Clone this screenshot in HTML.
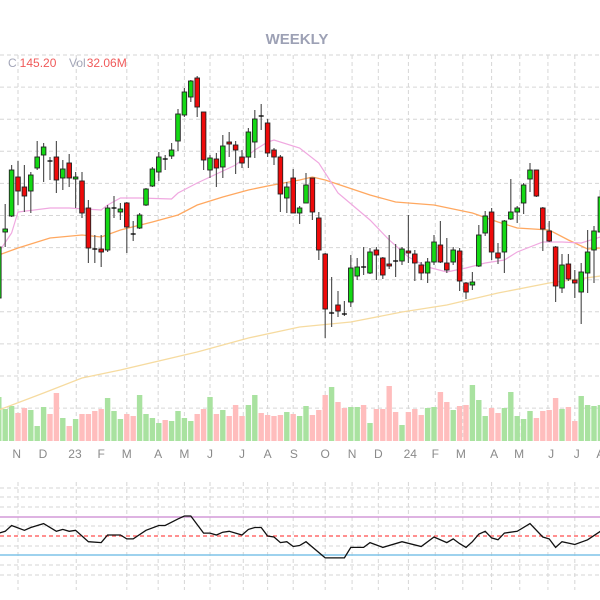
<!DOCTYPE html>
<html><head><meta charset="utf-8">
<style>
html,body{margin:0;padding:0;background:#fff;}
svg{display:block;font-family:"Liberation Sans",sans-serif;}
</style></head>
<body>
<svg id="chart" width="600" height="600" viewBox="0 0 600 600">
<g id="grid"></g>
<g id="vol"></g>
<g id="ma"></g>
<g id="candles"></g>
<g id="rsi"></g>
<g id="xaxis"></g>
<text x="297" y="44" text-anchor="middle" font-size="15" font-weight="bold" fill="#9da1b5">WEEKLY</text>
<text x="8" y="67" font-size="12"><tspan fill="#a3a6b8">C</tspan><tspan fill="#f05a5a" dx="3">145.20</tspan></text>
<text x="69" y="67" font-size="12"><tspan fill="#a3a6b8">Vol</tspan><tspan fill="#f05a5a" dx="1">32.06M</tspan></text>
</svg>
<script>
const opens=[102,168,184,223,213,209,232,245,239,243,222,237,221,219,192,151,151,150,192,188,197,166,172,195,214,228,241,244,259,285,303,322,288,230,241,233,258,255,243,243,258,284,277,250,243,202,222,187,197,222,182,146,87,95,86,98,124,133,127,150,142,136,139,139,149,146,135,127,138,155,137,138,149,117,115,134,167,188,147,148,181,188,197,221,230,192,169,153,112,136,120,108,127,150,168];
const closes=[153,171,230,209,204,225,243,253,238,220,231,222,223,187,152,150,148,192,193,191,173,165,185,211,231,243,240,250,286,308,319,293,240,242,232,254,256,250,237,268,281,283,247,243,206,213,187,192,215,188,150,91,88,89,85,132,133,132,148,145,125,134,138,151,147,137,127,138,158,138,130,150,119,108,118,165,184,148,142,179,188,192,215,230,204,171,159,114,135,121,117,128,148,169,203];
const highs=[155,196,235,239,235,228,259,257,243,259,240,246,228,228,200,165,165,195,204,197,198,179,187,212,233,248,245,257,291,312,320,324,288,245,247,265,268,259,250,272,290,296,281,252,245,218,231,194,227,222,188,147,123,109,99,145,142,153,152,153,143,165,156,153,185,150,138,142,165,179,162,153,152,118,128,175,189,192,157,180,221,194,217,237,230,193,179,154,146,146,130,137,170,174,210];
const lows=[102,153,183,195,188,187,230,218,220,207,210,213,192,182,137,137,133,148,182,180,147,159,171,194,213,219,230,241,249,283,298,283,230,222,213,222,243,226,232,232,242,270,243,235,188,187,187,176,197,180,140,62,73,83,84,93,120,125,126,120,121,131,123,135,137,119,120,117,135,137,127,135,109,101,110,133,164,140,136,127,180,177,186,208,203,149,158,98,107,119,102,76,107,117,168];
const volumes=[44,32,35,28,33,31,15,34,27,48,23,15,22,27,27,30,32,43,30,22,27,25,46,27,23,18,21,20,30,23,20,27,32,44,27,31,25,36,25,36,46,28,26,25,26,29,27,25,35,26,31,46,54,39,33,34,34,36,18,32,32,55,29,16,29,32,26,33,34,49,39,31,35,36,56,41,25,33,28,33,49,25,22,30,23,30,31,43,32,34,20,45,36,35,36];
const maPinkIdx=[0,2,3,8,11,16,17,19,22,27,28,31,33,37,40,42,43,47,50,53,58,61,64,67,70,73,76,79,81,85,88,91,94];
const maPinkVal=[148,167,188,192,192,190,195,202,202,201,207,217,223,235,250,258,260,252,237,207,180,160,143,133,128,132,137,140,148,158,158,157,163];
const maOrangeIdx=[0,3,8,13,16,19,24,28,31,35,39,42,47,49,51,58,62,68,74,78,81,86,89,92,94];
const maOrangeVal=[145,152,162,165,163,170,178,185,195,203,210,214,220,223,220,205,198,195,187,178,172,170,160,151,152];
const maLongIdx=[0,7,13,19,31,39,47,55,63,70,78,86,94];
const maLongVal=[-10,7,22,30,48,62,73,78,88,95,107,117,124];
const rsiIdx=[0,1,2,4,5,7,9,10,11,12,14,16,17,19,20,21,23,25,26,28,29,30,32,33,34,35,36,38,39,40,41,42,43,44,45,46,47,48,51,54,55,57,58,60,63,66,68,70,71,72,73,74,75,76,77,78,79,81,83,85,86,87,88,90,92,94];
const rsiVal=[53,55,61,56,59,63,55,57,55,56,44,43,51,51,47,47,56,61,61,68,71,71,53,53,51,54,55,51,57,59,59,50,49,43,44,39,40,44,27,27,38,38,43,38,44,39,49,43,47,42,38,44,52,55,48,46,53,55,63,49,47,38,44,41,46,55];
const rsiLevels=[70,50,30];
const tickLabels=["N","D","23","F","M","A","M","J","J","A","S","O","N","D","24","F","M","A","M","J","J","A"];
const tickIdx=[2.8,6.9,11.9,16,20,24.9,29,33,38,42,46.1,51,55.2,59.3,64.3,68.2,72.2,77.4,81.3,86.3,90.3,94];
const gridIdx=[3,12.1,20,24.9,29,33,38.2,42,46,51,55.2,59.3,64,68.2,72.5,77,81.4,85.8,90];

const NS="http://www.w3.org/2000/svg";
const xS=i=>-1.2+6.4*i;
const yP=p=>400-p;
const yV=v=>441-v;
const yR=r=>536-(r-50)*0.95;
function mk(tag,attrs,parent){const e=document.createElementNS(NS,tag);for(const k in attrs)e.setAttribute(k,attrs[k]);parent.appendChild(e);return e;}

// grid
const grid=document.getElementById('grid');
for(let k=0;k<12;k++){const y=55+k*32.1;
 const l=mk('line',{x1:0,x2:600,y1:y,y2:y,stroke:'#d6d6d6','stroke-dasharray':'4,3','stroke-width':1},grid);
 
 }
[488,497,507,526,546,565,575].forEach(y=>{
 const l=mk('line',{x1:0,x2:600,y1:y,y2:y,stroke:'#d6d6d6','stroke-dasharray':'4,3','stroke-width':1},grid);
 
 });
gridIdx.forEach(i=>{const x=xS(i);
 const l=mk('line',{x1:x,x2:x,y1:55,y2:441,stroke:'#d6d6d6','stroke-dasharray':'4,3','stroke-width':1},grid);
 
 
 const l2=mk('line',{x1:x,x2:x,y1:482,y2:590,stroke:'#d6d6d6','stroke-dasharray':'4,3','stroke-width':1},grid);
 
 });

// volume
const vol=document.getElementById('vol');
volumes.forEach((v,i)=>{const up=closes[i]>opens[i];
 const r=mk('rect',{x:xS(i)-2.7,y:yV(v),width:5.4,height:v,fill:up?'#a9e2a0':'#ffbdbd'},vol);
 
 });

// moving averages
const ma=document.getElementById('ma');
function line(idx,val,color,w,name){
 const pts=idx.map((i,k)=>xS(i).toFixed(1)+','+yP(val[k]).toFixed(1)).join(' ');
 const p=mk('polyline',{points:pts,fill:'none',stroke:color,'stroke-width':w},ma);
 
 }
line(maLongIdx,maLongVal,'#f6dba0',1.3,'long-moving-average');
line(maOrangeIdx,maOrangeVal,'#ffa860',1.3,'mid-moving-average');
line(maPinkIdx,maPinkVal,'#f0a8e0',1.2,'short-moving-average');

// candles
const cg=document.getElementById('candles');
opens.forEach((o,i)=>{const c=closes[i],x=xS(i);
 const g=mk('g',{},cg);
 
 
 mk('line',{x1:x,x2:x,y1:yP(highs[i]),y2:yP(lows[i]),stroke:'#555','stroke-width':1.2},g);
 if(Math.abs(o-c)<1.5){
  mk('line',{x1:x-2.5,x2:x+2.5,y1:yP(o),y2:yP(o),stroke:'#000','stroke-width':1.3},g);
 } else {
  const top=yP(Math.max(o,c)),h=Math.abs(o-c);
  mk('rect',{x:x-2.3,y:top,width:4.6,height:h,fill:c>o?'#14d914':'#ee0a0a',stroke:'#222','stroke-width':0.9},g);
 }});

// rsi
const rg=document.getElementById('rsi');
const lvlColors=['#d49ad8','#ff6b6b','#7ec4e8'];
rsiLevels.forEach((lv,k)=>{
 const l=mk('line',{x1:0,x2:600,y1:yR(lv),y2:yR(lv),stroke:lvlColors[k],'stroke-width':1.5,'stroke-dasharray':k===1?'4,3':'none'},rg);
 
 });
const rp=mk('polyline',{points:rsiIdx.map((i,k)=>xS(i).toFixed(1)+','+yR(rsiVal[k]).toFixed(1)).join(' '),fill:'none',stroke:'#111','stroke-width':1.3},rg);



// x axis
const xa=document.getElementById('xaxis');
tickLabels.forEach((t,k)=>{
 const e=mk('text',{x:xS(tickIdx[k]),y:458,'text-anchor':'middle','font-size':12,fill:'#8a8a8a'},xa);
 e.textContent=t;
 
 });
</script>
</body></html>
